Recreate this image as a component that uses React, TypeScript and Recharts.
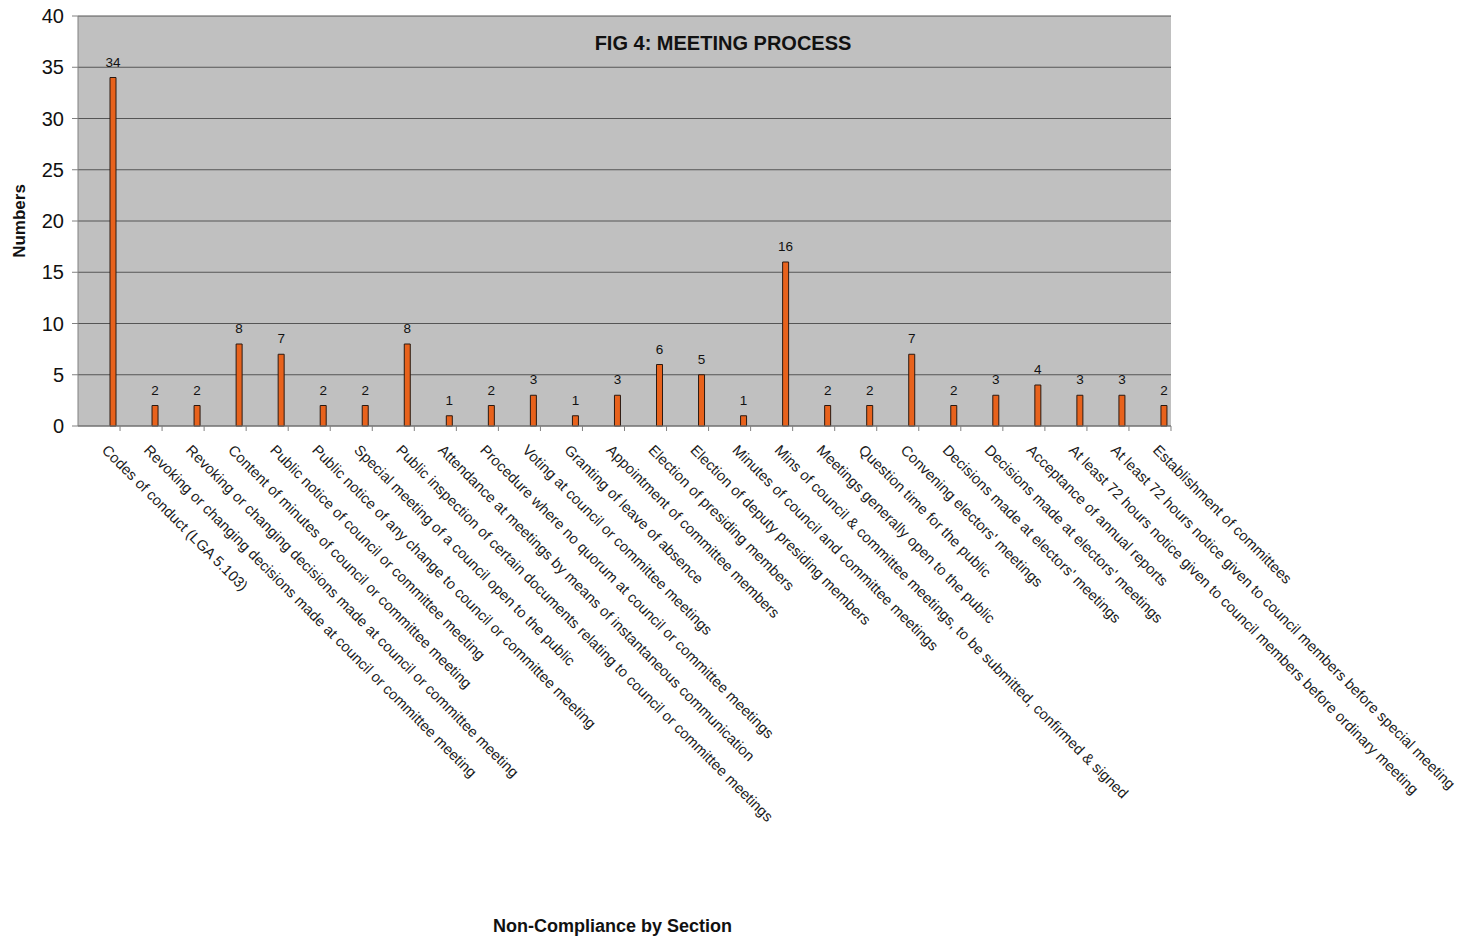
import { BarChart, Bar, XAxis, YAxis, CartesianGrid, LabelList } from 'recharts'

const categories = [
  'Codes of conduct (LGA 5.103)',
  'Revoking or changing decisions made at council or committee meeting',
  'Revoking or changing decisions made at council or committee meeting',
  'Content of minutes of council or committee meeting',
  'Public notice of council or committee meeting',
  'Public notice of any change to council or committee meeting',
  'Special meeting of a council open to the public',
  'Public inspection of certain documents relating to council or committee meetings',
  'Attendance at meetings by means of instantaneous communication',
  'Procedure where no quorum at council or committee meetings',
  'Voting at council or committee meetings',
  'Granting of leave of absence',
  'Appointment of committee members',
  'Election of presiding members',
  'Election of deputy presiding members',
  'Minutes of council and committee meetings',
  'Mins of council & committee meetings, to be submitted, confirmed & signed',
  'Meetings generally open to the public',
  'Question time for the public',
  "Convening electors' meetings",
  "Decisions made at electors' meetings",
  "Decisions made at electors' meetings",
  'Acceptance of annual reports',
  'At least 72 hours notice given to council members before ordinary meeting',
  'At least 72 hours notice given to council members before special meeting',
  'Establishment of committees',
]

const counts = [34, 2, 2, 8, 7, 2, 2, 8, 1, 2, 3, 1, 3, 6, 5, 1, 16, 2, 2, 7, 2, 3, 4, 3, 3, 2]

const yTicks = [0, 5, 10, 15, 20, 25, 30, 35, 40]

const rows = categories.map((name, i) => ({ name, count: counts[i] }))

const FONT = "Arial, 'Liberation Sans', sans-serif"

// rotated section names, with the tick mark on the band boundary
function SectionTick({ x, y, payload }: any) {
  const half = payload?.offset ?? 0
  return (
    <g transform={`translate(${x},${y})`}>
      <line x1={half} y1={0} x2={half} y2={5} stroke="#808080" />
      <text
        transform="translate(2,25) rotate(45)"
        textAnchor="start"
        fontSize={14.8}
        fontFamily={FONT}
        fill="#1a1a1a"
      >
        {payload.value}
      </text>
    </g>
  )
}

function NumbersLabel({ viewBox }: any) {
  const cx = viewBox.x + 25
  const cy = viewBox.y + viewBox.height / 2
  return (
    <text
      x={cx}
      y={cy}
      transform={`rotate(-90, ${cx}, ${cy})`}
      textAnchor="middle"
      fontSize={17}
      fontWeight="bold"
      fontFamily={FONT}
      fill="#111"
    >
      Numbers
    </text>
  )
}

function SectionLabel({ viewBox }: any) {
  return (
    <text
      x={viewBox.x + viewBox.width / 2 - 12}
      y={viewBox.y + viewBox.height - 6}
      textAnchor="middle"
      fontSize={18}
      fontWeight="bold"
      fontFamily={FONT}
      fill="#111"
    >
      Non-Compliance by Section
    </text>
  )
}

export default function App() {
  return (
    <div style={{ position: 'absolute', left: 0, top: 0, width: 1464, height: 938, background: '#fff' }}>
      <BarChart
        width={1464}
        height={938}
        data={rows}
        margin={{ top: 16, right: 293, bottom: 0, left: 0 }}
        barGap={22}
      >
        <CartesianGrid vertical={false} fill="#c0c0c0" stroke="#555" strokeOpacity={1} />
        <XAxis
          dataKey="name"
          interval={0}
          height={512}
          tickSize={0}
          tickMargin={0}
          tick={<SectionTick />}
          axisLine={{ stroke: '#808080' }}
          tickLine={false}
          label={{ content: <SectionLabel /> }}
        />
        <YAxis
          domain={[0, 40]}
          ticks={yTicks}
          width={78}
          tickSize={6}
          tickMargin={8}
          tick={{ fill: '#111', fontSize: 20, fontFamily: FONT }}
          axisLine={{ stroke: '#808080' }}
          tickLine={{ stroke: '#808080' }}
          label={{ content: <NumbersLabel /> }}
        />
        <YAxis
          yAxisId="frame"
          orientation="right"
          width={0}
          tick={false}
          tickLine={false}
          axisLine={{ stroke: '#666' }}
        />
        {/* empty first series keeps its slot, so the counts sit right of each band's centre */}
        <Bar dataKey="blank" barSize={6} isAnimationActive={false} />
        <Bar dataKey="count" barSize={6} fill="#e8621c" stroke="#2a1a12" strokeWidth={1} isAnimationActive={false}>
          <LabelList dataKey="count" position="top" offset={11} fontSize={13.5} fontFamily={FONT} fill="#111" />
        </Bar>
      </BarChart>
      <div
        style={{
          position: 'absolute',
          left: 523,
          top: 33,
          width: 400,
          textAlign: 'center',
          fontFamily: FONT,
          fontWeight: 'bold',
          fontSize: 20,
          lineHeight: '20px',
          color: '#111',
        }}
      >
        FIG 4: MEETING PROCESS
      </div>
    </div>
  )
}
